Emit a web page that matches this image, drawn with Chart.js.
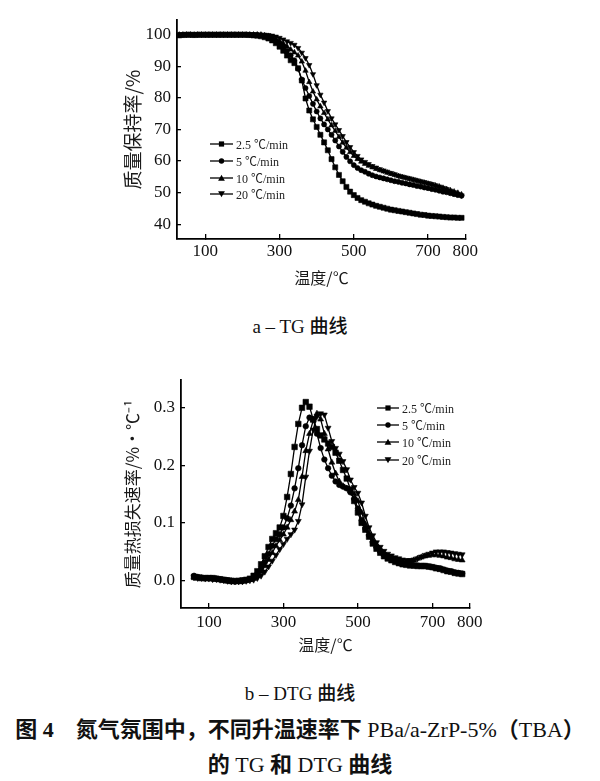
<!DOCTYPE html>
<html><head><meta charset="utf-8">
<script src="https://cdn.jsdelivr.net/npm/chart.js@4.4.1/dist/chart.umd.min.js"></script>
<style>
html,body{margin:0;padding:0;background:#fff;}
body{width:600px;height:781px;position:relative;overflow:hidden;font-family:"Liberation Serif","Noto Sans CJK SC",serif;color:#111;}
canvas{position:absolute;left:0;}
#c1{top:0;}
#c2{top:360px;}
.legend{position:absolute;font-family:"Liberation Serif","Noto Sans CJK SC",serif;font-size:12px;color:#222;}
.legend .row{position:absolute;left:0;height:14px;white-space:nowrap;display:flex;align-items:center;}
.legend svg{margin-right:3px;}
.cap{position:absolute;left:0;width:600px;text-align:center;white-space:nowrap;line-height:26px;}
.cn{font-family:"Noto Sans CJK SC",sans-serif;}
</style></head><body>
<canvas id="c1" width="600" height="300"></canvas>
<canvas id="c2" width="600" height="300"></canvas>
<div class="legend" id="leg1" style="left:210px;top:137px;"></div>
<div class="legend" id="leg2" style="left:377px;top:401px;"></div>
<div class="cap" style="top:312px;font-size:19px;">a – TG <span class="cn" style="font-weight:500;">曲线</span></div>
<div class="cap" style="top:679px;font-size:19px;">b – DTG <span class="cn" style="font-weight:500;">曲线</span></div>
<div class="cap" style="top:714px;font-size:22px;"><span class="cn" style="font-weight:700;">图</span> <b>4</b><span class="cn" style="font-weight:700;">　氮气氛围中，不同升温速率下</span> PBa/a-ZrP-5%<span class="cn" style="font-weight:700;">（</span>TBA<span class="cn" style="font-weight:700;">）</span></div>
<div class="cap" style="top:749px;font-size:22px;"><span class="cn" style="font-weight:700;">的</span> TG <span class="cn" style="font-weight:700;">和</span> DTG <span class="cn" style="font-weight:700;">曲线</span></div>
<script>
// ---------- data ----------
const seriesLabels = ["2.5 \u2103/min", "5 \u2103/min", "10 \u2103/min", "20 \u2103/min"];
const markerStyles = ["rect", "circle", "triangle", "triangleDown"];

const tgTemps = [30,40,50,60,70,80,90,100,110,120,
 130,140,150,160,170,180,190,200,210,220,
 230,240,250,260,270,280,290,300,310,320,
 330,340,350,360,370,380,390,400,410,420,
 430,440,450,460,470,480,490,500,510,520,
 530,540,550,560,570,580,590,600,610,620,
 630,640,650,660,670,680,690,700,710,720,
 730,740,750,760,770,780,790];

const tg25 = [99.8,99.9,100,100,99.9,100,100,100,100,100,
 100,100,100,100,100,100,100,100,100,99.9,
 99.8,99.7,99.5,99.2,98.8,98.2,97.3,96.2,94.9,93.4,
 91.9,91.0,89.4,85.5,79.8,76.0,73.2,70.8,68.3,65.9,
 63.4,60.6,58.0,55.6,53.6,51.8,50.3,49.2,48.3,47.6,
 47.1,46.6,46.2,45.8,45.5,45.2,44.9,44.6,44.4,44.2,
 44.0,43.8,43.6,43.4,43.2,43.0,42.9,42.7,42.6,42.5,
 42.4,42.3,42.2,42.1,42.1,42.0,42.0];

const tg5 = [99.9,100,100,100,100,100,100,100,100,100,
 100,100,100,100,100,100,100,100,100,100,
 100,100,99.8,99.6,99.3,98.8,98.1,97.2,96.1,94.9,
 93.5,91.9,89.2,85.8,83.1,80.6,78.1,75.7,73.5,71.6,
 70.0,68.3,66.5,64.6,62.9,61.3,59.9,58.7,57.8,57.1,
 56.6,56.0,55.5,55.1,54.8,54.5,54.2,53.9,53.6,53.4,
 53.1,52.9,52.6,52.4,52.1,51.9,51.6,51.4,51.1,50.9,
 50.6,50.3,50.1,49.8,49.5,49.2,49.0];

const tg10 = [100,100,100,100,100,100,100,100,100,100,
 100,100,100,100,100,100,100,100,100,100,
 100,100,100,99.8,99.6,99.2,98.7,98.0,97.2,96.3,
 95.3,94.4,93.4,91.5,88.6,85.0,82.0,79.5,77.3,75.2,
 73.2,71.3,69.5,67.6,65.8,64.2,62.8,61.6,60.6,59.8,
 59.1,58.5,58.0,57.5,57.1,56.7,56.3,55.9,55.6,55.2,
 54.9,54.6,54.3,54.0,53.7,53.4,53.1,52.8,52.5,52.2,
 51.9,51.5,51.1,50.7,50.3,49.9,49.4];

const tg20 = [100,100,100,100,100,100,100,100,100,100,
 100,100,100,100,100,100,100,100,100,100,
 100,100,100,100,99.9,99.7,99.4,99.0,98.5,97.9,
 97.4,96.8,95.8,94.3,92.6,90.4,87.5,84.0,81.0,78.5,
 75.8,73.5,71.6,69.8,67.9,66.0,64.4,62.8,61.6,60.5,
 59.7,59.0,58.4,57.9,57.4,57.0,56.6,56.2,55.8,55.4,
 55.1,54.8,54.5,54.2,53.9,53.6,53.3,53.0,52.7,52.3,
 51.9,51.5,51.1,50.6,50.1,49.6,49.1];

const dtgTemps = [60,70,80,90,100,110,120,130,140,150,
 160,170,180,190,200,210,220,230,240,250,
 260,270,280,290,300,310,320,330,340,350,
 360,370,380,390,400,410,420,430,440,450,
 460,470,480,490,500,510,520,530,540,550,
 560,570,580,590,600,610,620,630,640,650,
 660,670,680,690,700,710,720,730,740,750,
 760,770,780];

const dtg25 = [0.006,0.005,0.004,0.004,0.004,0.004,0.003,0.002,0.001,0.000,
 -0.001,-0.001,-0.001,0.000,0.001,0.003,0.008,0.016,0.028,0.042,
 0.058,0.072,0.082,0.092,0.112,0.145,0.185,0.232,0.272,0.300,
 0.310,0.302,0.280,0.263,0.252,0.245,0.238,0.232,0.222,0.208,
 0.192,0.177,0.158,0.138,0.118,0.100,0.088,0.076,0.064,0.055,
 0.048,0.042,0.038,0.035,0.032,0.030,0.028,0.027,0.026,0.026,
 0.025,0.025,0.025,0.024,0.023,0.021,0.020,0.018,0.016,0.015,
 0.013,0.012,0.011];

const dtg5 = [0.008,0.006,0.005,0.004,0.004,0.003,0.003,0.002,0.001,0.000,
 -0.001,-0.002,-0.001,-0.001,0.000,0.002,0.005,0.011,0.020,0.032,
 0.046,0.060,0.072,0.080,0.092,0.108,0.130,0.160,0.195,0.235,
 0.268,0.283,0.280,0.255,0.230,0.210,0.195,0.182,0.172,0.166,
 0.163,0.160,0.153,0.142,0.125,0.105,0.090,0.078,0.066,0.057,
 0.050,0.044,0.040,0.037,0.034,0.032,0.030,0.028,0.027,0.026,
 0.026,0.025,0.025,0.024,0.023,0.022,0.021,0.019,0.017,0.016,
 0.014,0.013,0.012];

const dtg10 = [0.006,0.005,0.004,0.003,0.003,0.003,0.002,0.001,0.000,-0.001,
 -0.001,-0.002,-0.002,-0.001,0.000,0.001,0.003,0.008,0.015,0.025,
 0.036,0.048,0.060,0.070,0.080,0.092,0.105,0.120,0.140,0.180,
 0.225,0.255,0.278,0.290,0.280,0.255,0.228,0.205,0.186,0.172,
 0.164,0.160,0.156,0.150,0.138,0.118,0.098,0.082,0.070,0.060,
 0.052,0.046,0.041,0.038,0.035,0.033,0.032,0.032,0.033,0.035,
 0.038,0.040,0.042,0.043,0.044,0.044,0.043,0.042,0.040,0.039,
 0.037,0.036,0.035];

const dtg20 = [0.005,0.004,0.004,0.003,0.003,0.002,0.002,0.001,0.000,-0.001,
 -0.002,-0.002,-0.002,-0.002,-0.001,0.000,0.001,0.004,0.008,0.015,
 0.024,0.034,0.044,0.054,0.063,0.072,0.080,0.088,0.103,0.132,
 0.180,0.225,0.262,0.285,0.290,0.288,0.265,0.242,0.230,0.220,
 0.207,0.193,0.175,0.162,0.152,0.135,0.112,0.092,0.078,0.066,
 0.058,0.051,0.046,0.043,0.040,0.038,0.036,0.035,0.035,0.036,
 0.038,0.041,0.044,0.046,0.048,0.050,0.050,0.050,0.049,0.048,
 0.047,0.046,0.045];

const xTickValues = [100, 300, 500, 700, 800];
const tgTickValues = [40, 50, 60, 70, 80, 90, 100];
const dtgTickValues = [0.0, 0.1, 0.2, 0.3];

// ---------- helpers ----------
const tickFont = {family: "'Liberation Serif', 'Times New Roman', serif", size: 17};
const titleFontFam = "'Noto Sans CJK SC', sans-serif";

function pts(xs, ys) { return xs.map((x, i) => ({x: x, y: ys[i]})); }

function makeDataset(label, style, xs, ys, r) {
  const down = style === 'triangleDown';
  const ps = down ? 'triangle' : style;
  const rad = style === 'rect' ? r * 1.15 : (style === 'circle' ? r * 0.82 : r);
  return {
    label: label, data: pts(xs, ys),
    borderColor: '#000', backgroundColor: '#000', borderWidth: 1.3,
    pointStyle: ps, pointRotation: down ? 180 : 0,
    pointRadius: rad, pointBorderWidth: 0.6, pointBorderColor: '#000', pointBackgroundColor: '#000',
    tension: 0, fill: false
  };
}

function axisCommon(tickVals, fmt, pad, width, height, title, titleSize) {
  return {
    type: 'linear',
    afterBuildTicks: s => { s.ticks = tickVals.map(v => ({value: v})); },
    afterFit: s => { if (width) s.width = width; if (height) s.height = height; },
    grid: {display: true, drawOnChartArea: false, drawTicks: true, tickLength: -5, color: '#000', lineWidth: 1.3},
    border: {display: true, color: '#000', width: 1.8},
    ticks: {color: '#111', font: tickFont, padding: pad, autoSkip: false, maxRotation: 0, callback: fmt},
    title: {display: true, text: title, color: '#1a1a1a', padding: 0,
            font: {family: titleFontFam, size: titleSize}}
  };
}

function buildChart(id, xs, seriesYs, cfg) {
  const datasets = seriesYs.map((ys, i) => makeDataset(seriesLabels[i], markerStyles[i], xs, ys, cfg.r));
  const xAxis = axisCommon(xTickValues, v => String(v), cfg.xPad, null, cfg.xHeight, '温度/\u2103', 16);
  xAxis.min = cfg.xMin; xAxis.max = cfg.xMax; xAxis.position = 'bottom';
  const yAxis = axisCommon(cfg.yTicks, cfg.yFmt, 10, cfg.yWidth, null, cfg.yTitle, cfg.yTitleSize);
  yAxis.min = cfg.yMin; yAxis.max = cfg.yMax; yAxis.position = 'left';
  yAxis.grid.tickLength = -4;
  return new Chart(document.getElementById(id), {
    type: 'line',
    data: {datasets: datasets},
    options: {
      responsive: false, animation: false, devicePixelRatio: 1,
      layout: {padding: cfg.padding},
      plugins: {legend: {display: false}, tooltip: {enabled: false}, title: {display: false}},
      scales: {x: xAxis, y: yAxis}
    }
  });
}

buildChart('c1', tgTemps, [tg25, tg5, tg10, tg20], {
  r: 3.1, xMin: 24, xMax: 802, yMin: 35.3, yMax: 104.6,
  yTicks: tgTickValues, yFmt: v => String(v),
  xPad: 7, xHeight: 49, yWidth: 56, yTitleSize: 19,
  yTitle: '质量保持率/%',
  padding: {left: 121, top: 8, right: 134, bottom: 12}
});

buildChart('c2', dtgTemps, [dtg25, dtg5, dtg10, dtg20], {
  r: 3.4, xMin: 25, xMax: 801, yMin: -0.048, yMax: 0.348,
  yTicks: dtgTickValues, yFmt: v => Number(v).toFixed(1),
  xPad: 9, xHeight: 47, yWidth: 59, yTitleSize: 17,
  yTitle: '质量热损失速率/%·\u2103\u207B\u00B9',
  padding: {left: 122, top: 18, right: 130, bottom: 5}
});

// ---------- legends ----------
function iconSvg(style, w) {
  const cy = 5, cx = w / 2;
  let m = '';
  if (style === 'rect') m = `<rect x="${cx-2.6}" y="${cy-2.6}" width="5.2" height="5.2" fill="#000"/>`;
  else if (style === 'circle') m = `<circle cx="${cx}" cy="${cy}" r="2.7" fill="#000"/>`;
  else if (style === 'triangle') m = `<polygon points="${cx},${cy-3.2} ${cx+3.4},${cy+2.7} ${cx-3.4},${cy+2.7}" fill="#000"/>`;
  else m = `<polygon points="${cx},${cy+3.2} ${cx+3.4},${cy-2.7} ${cx-3.4},${cy-2.7}" fill="#000"/>`;
  return `<svg width="${w}" height="10" viewBox="0 0 ${w} 10"><line x1="0" y1="${cy}" x2="${w}" y2="${cy}" stroke="#000" stroke-width="1.3"/>${m}</svg>`;
}
function buildLegend(id, rowYs, w) {
  const el = document.getElementById(id);
  seriesLabels.forEach((lab, i) => {
    const row = document.createElement('div');
    row.className = 'row';
    row.style.top = rowYs[i] + 'px';
    row.innerHTML = iconSvg(markerStyles[i], w) + '<span>' + lab + '</span>';
    el.appendChild(row);
  });
}
buildLegend('leg1', [0, 17, 34, 50], 23);
buildLegend('leg2', [0, 17, 34, 52], 22);
</script>
</body></html>
